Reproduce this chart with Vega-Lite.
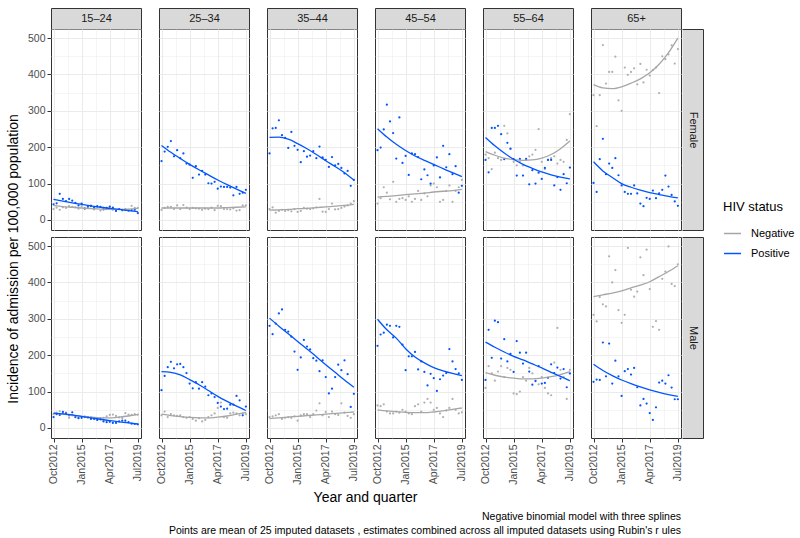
{
"$schema": "https://vega.github.io/schema/vega-lite/v6.json",
"padding": {"left": 6, "top": 7, "right": 5, "bottom": 5},
"background": "white",
"config": {
  "font": "Liberation Sans",
  "view": {"stroke": "#333333", "strokeWidth": 1},
  "axis": {"gridColor": "#EBEBEB", "domain": false, "tickColor": "#333333", "labelColor": "#4D4D4D", "labelFontSize": 10.5, "labelFont": "Liberation Sans", "minExtent": 0, "titleFont": "Liberation Sans", "titleFontSize": 11, "titleColor": "#1A1A1A", "titleFontWeight": "normal", "titlePadding": 0, "titleBaseline": "middle"},
  "title": {"fontWeight": "normal", "color": "#000000", "font": "Liberation Sans"},
  "legend": {"titleFontSize": 13, "titleFontWeight": "normal", "titleColor": "#000000", "labelFontSize": 11, "labelColor": "#000000", "symbolStrokeWidth": 1.5, "symbolSize": 289, "rowPadding": 5, "labelOffset": 9, "titlePadding": 10, "symbolType": "stroke"}
},
"datasets": {
"f1": [
{"hiv":"Negative","q":0,"v":30},{"hiv":"Negative","q":1,"v":34},{"hiv":"Negative","q":2,"v":28},{"hiv":"Negative","q":3,"v":35},{"hiv":"Negative","q":4,"v":33},{"hiv":"Negative","q":5,"v":38},{"hiv":"Negative","q":6,"v":36},{"hiv":"Negative","q":7,"v":35},{"hiv":"Negative","q":8,"v":31},{"hiv":"Negative","q":9,"v":38},{"hiv":"Negative","q":10,"v":30},{"hiv":"Negative","q":11,"v":33},{"hiv":"Negative","q":12,"v":40},{"hiv":"Negative","q":13,"v":29},{"hiv":"Negative","q":14,"v":35},{"hiv":"Negative","q":15,"v":26},{"hiv":"Negative","q":16,"v":33},{"hiv":"Negative","q":17,"v":30},{"hiv":"Negative","q":18,"v":34},{"hiv":"Negative","q":19,"v":28},{"hiv":"Negative","q":20,"v":25},{"hiv":"Negative","q":21,"v":30},{"hiv":"Negative","q":22,"v":26},{"hiv":"Negative","q":23,"v":30},{"hiv":"Negative","q":24,"v":28},{"hiv":"Negative","q":25,"v":39},{"hiv":"Negative","q":26,"v":33},{"hiv":"Negative","q":27,"v":33},
{"hiv":"Positive","q":0,"v":43},{"hiv":"Positive","q":1,"v":46},{"hiv":"Positive","q":2,"v":72},{"hiv":"Positive","q":3,"v":58},{"hiv":"Positive","q":4,"v":52},{"hiv":"Positive","q":5,"v":58},{"hiv":"Positive","q":6,"v":53},{"hiv":"Positive","q":7,"v":47},{"hiv":"Positive","q":8,"v":40},{"hiv":"Positive","q":9,"v":45},{"hiv":"Positive","q":10,"v":32},{"hiv":"Positive","q":11,"v":37},{"hiv":"Positive","q":12,"v":38},{"hiv":"Positive","q":13,"v":34},{"hiv":"Positive","q":14,"v":38},{"hiv":"Positive","q":15,"v":36},{"hiv":"Positive","q":16,"v":29},{"hiv":"Positive","q":17,"v":33},{"hiv":"Positive","q":18,"v":37},{"hiv":"Positive","q":19,"v":34},{"hiv":"Positive","q":20,"v":25},{"hiv":"Positive","q":21,"v":30},{"hiv":"Positive","q":22,"v":28},{"hiv":"Positive","q":23,"v":28},{"hiv":"Positive","q":24,"v":26},{"hiv":"Positive","q":25,"v":27},{"hiv":"Positive","q":26,"v":28},{"hiv":"Positive","q":27,"v":19}],
"f1fit": [
{"hiv":"Negative","q":0,"v":40},{"hiv":"Negative","q":3,"v":37},{"hiv":"Negative","q":6,"v":35},{"hiv":"Negative","q":9,"v":33},{"hiv":"Negative","q":12,"v":31},{"hiv":"Negative","q":15,"v":30},{"hiv":"Negative","q":18,"v":29},{"hiv":"Negative","q":21,"v":29},{"hiv":"Negative","q":24,"v":30},{"hiv":"Negative","q":27,"v":32},
{"hiv":"Positive","q":0,"v":57},{"hiv":"Positive","q":3,"v":52},{"hiv":"Positive","q":6,"v":47},{"hiv":"Positive","q":9,"v":43},{"hiv":"Positive","q":12,"v":39},{"hiv":"Positive","q":15,"v":35},{"hiv":"Positive","q":18,"v":32},{"hiv":"Positive","q":21,"v":29},{"hiv":"Positive","q":24,"v":26},{"hiv":"Positive","q":27,"v":23}],
"f2": [
{"hiv":"Negative","q":0,"v":28},{"hiv":"Negative","q":1,"v":33},{"hiv":"Negative","q":2,"v":36},{"hiv":"Negative","q":3,"v":36},{"hiv":"Negative","q":4,"v":30},{"hiv":"Negative","q":5,"v":40},{"hiv":"Negative","q":6,"v":30},{"hiv":"Negative","q":7,"v":41},{"hiv":"Negative","q":8,"v":34},{"hiv":"Negative","q":9,"v":30},{"hiv":"Negative","q":10,"v":33},{"hiv":"Negative","q":11,"v":32},{"hiv":"Negative","q":12,"v":31},{"hiv":"Negative","q":13,"v":28},{"hiv":"Negative","q":14,"v":31},{"hiv":"Negative","q":15,"v":30},{"hiv":"Negative","q":16,"v":34},{"hiv":"Negative","q":17,"v":27},{"hiv":"Negative","q":18,"v":39},{"hiv":"Negative","q":19,"v":38},{"hiv":"Negative","q":20,"v":30},{"hiv":"Negative","q":21,"v":30},{"hiv":"Negative","q":22,"v":29},{"hiv":"Negative","q":23,"v":32},{"hiv":"Negative","q":24,"v":26},{"hiv":"Negative","q":25,"v":27},{"hiv":"Negative","q":26,"v":40},{"hiv":"Negative","q":27,"v":40},
{"hiv":"Positive","q":0,"v":162},{"hiv":"Positive","q":1,"v":188},{"hiv":"Positive","q":2,"v":201},{"hiv":"Positive","q":3,"v":217},{"hiv":"Positive","q":4,"v":175},{"hiv":"Positive","q":5,"v":192},{"hiv":"Positive","q":6,"v":170},{"hiv":"Positive","q":7,"v":183},{"hiv":"Positive","q":8,"v":155},{"hiv":"Positive","q":9,"v":152},{"hiv":"Positive","q":10,"v":116},{"hiv":"Positive","q":11,"v":148},{"hiv":"Positive","q":12,"v":125},{"hiv":"Positive","q":13,"v":135},{"hiv":"Positive","q":14,"v":125},{"hiv":"Positive","q":15,"v":101},{"hiv":"Positive","q":16,"v":100},{"hiv":"Positive","q":17,"v":105},{"hiv":"Positive","q":18,"v":86},{"hiv":"Positive","q":19,"v":92},{"hiv":"Positive","q":20,"v":91},{"hiv":"Positive","q":21,"v":91},{"hiv":"Positive","q":22,"v":89},{"hiv":"Positive","q":23,"v":68},{"hiv":"Positive","q":24,"v":91},{"hiv":"Positive","q":25,"v":72},{"hiv":"Positive","q":26,"v":75},{"hiv":"Positive","q":27,"v":83}],
"f2fit": [
{"hiv":"Negative","q":0,"v":33},{"hiv":"Negative","q":3,"v":33},{"hiv":"Negative","q":6,"v":33},{"hiv":"Negative","q":9,"v":33},{"hiv":"Negative","q":12,"v":33},{"hiv":"Negative","q":15,"v":33},{"hiv":"Negative","q":18,"v":33},{"hiv":"Negative","q":21,"v":34},{"hiv":"Negative","q":24,"v":35},{"hiv":"Negative","q":27,"v":36},
{"hiv":"Positive","q":0,"v":205},{"hiv":"Positive","q":3,"v":186},{"hiv":"Positive","q":6,"v":169},{"hiv":"Positive","q":9,"v":153},{"hiv":"Positive","q":12,"v":138},{"hiv":"Positive","q":15,"v":124},{"hiv":"Positive","q":18,"v":110},{"hiv":"Positive","q":21,"v":97},{"hiv":"Positive","q":24,"v":85},{"hiv":"Positive","q":27,"v":73}],
"f3": [
{"hiv":"Negative","q":0,"v":30},{"hiv":"Negative","q":1,"v":35},{"hiv":"Negative","q":2,"v":20},{"hiv":"Negative","q":3,"v":25},{"hiv":"Negative","q":4,"v":28},{"hiv":"Negative","q":5,"v":25},{"hiv":"Negative","q":6,"v":27},{"hiv":"Negative","q":7,"v":24},{"hiv":"Negative","q":8,"v":30},{"hiv":"Negative","q":9,"v":22},{"hiv":"Negative","q":10,"v":25},{"hiv":"Negative","q":11,"v":33},{"hiv":"Negative","q":12,"v":31},{"hiv":"Negative","q":13,"v":30},{"hiv":"Negative","q":14,"v":32},{"hiv":"Negative","q":15,"v":35},{"hiv":"Negative","q":16,"v":58},{"hiv":"Negative","q":17,"v":23},{"hiv":"Negative","q":18,"v":22},{"hiv":"Negative","q":19,"v":30},{"hiv":"Negative","q":20,"v":45},{"hiv":"Negative","q":21,"v":29},{"hiv":"Negative","q":22,"v":30},{"hiv":"Negative","q":23,"v":33},{"hiv":"Negative","q":24,"v":37},{"hiv":"Negative","q":25,"v":40},{"hiv":"Negative","q":26,"v":45},{"hiv":"Negative","q":27,"v":52},
{"hiv":"Positive","q":0,"v":183},{"hiv":"Positive","q":1,"v":252},{"hiv":"Positive","q":2,"v":253},{"hiv":"Positive","q":3,"v":274},{"hiv":"Positive","q":4,"v":233},{"hiv":"Positive","q":5,"v":226},{"hiv":"Positive","q":6,"v":198},{"hiv":"Positive","q":7,"v":242},{"hiv":"Positive","q":8,"v":204},{"hiv":"Positive","q":9,"v":193},{"hiv":"Positive","q":10,"v":159},{"hiv":"Positive","q":11,"v":189},{"hiv":"Positive","q":12,"v":174},{"hiv":"Positive","q":13,"v":177},{"hiv":"Positive","q":14,"v":189},{"hiv":"Positive","q":15,"v":170},{"hiv":"Positive","q":16,"v":202},{"hiv":"Positive","q":17,"v":172},{"hiv":"Positive","q":18,"v":165},{"hiv":"Positive","q":19,"v":146},{"hiv":"Positive","q":20,"v":173},{"hiv":"Positive","q":21,"v":150},{"hiv":"Positive","q":22,"v":154},{"hiv":"Positive","q":23,"v":143},{"hiv":"Positive","q":24,"v":128},{"hiv":"Positive","q":25,"v":135},{"hiv":"Positive","q":26,"v":94},{"hiv":"Positive","q":27,"v":110}],
"f3fit": [
{"hiv":"Negative","q":0,"v":27},{"hiv":"Negative","q":3,"v":28},{"hiv":"Negative","q":6,"v":29},{"hiv":"Negative","q":9,"v":31},{"hiv":"Negative","q":12,"v":32},{"hiv":"Negative","q":15,"v":34},{"hiv":"Negative","q":18,"v":36},{"hiv":"Negative","q":21,"v":38},{"hiv":"Negative","q":24,"v":40},{"hiv":"Negative","q":27,"v":43},
{"hiv":"Positive","q":0,"v":227},{"hiv":"Positive","q":3,"v":228},{"hiv":"Positive","q":6,"v":222},{"hiv":"Positive","q":9,"v":210},{"hiv":"Positive","q":12,"v":196},{"hiv":"Positive","q":15,"v":180},{"hiv":"Positive","q":18,"v":163},{"hiv":"Positive","q":21,"v":147},{"hiv":"Positive","q":24,"v":130},{"hiv":"Positive","q":27,"v":110}],
"f4": [
{"hiv":"Negative","q":0,"v":45},{"hiv":"Negative","q":1,"v":60},{"hiv":"Negative","q":2,"v":90},{"hiv":"Negative","q":3,"v":75},{"hiv":"Negative","q":4,"v":57},{"hiv":"Negative","q":5,"v":105},{"hiv":"Negative","q":6,"v":50},{"hiv":"Negative","q":7,"v":58},{"hiv":"Negative","q":8,"v":60},{"hiv":"Negative","q":9,"v":55},{"hiv":"Negative","q":10,"v":65},{"hiv":"Negative","q":11,"v":50},{"hiv":"Negative","q":12,"v":58},{"hiv":"Negative","q":13,"v":80},{"hiv":"Negative","q":14,"v":55},{"hiv":"Negative","q":15,"v":73},{"hiv":"Negative","q":16,"v":65},{"hiv":"Negative","q":17,"v":95},{"hiv":"Negative","q":18,"v":100},{"hiv":"Negative","q":19,"v":90},{"hiv":"Negative","q":20,"v":50},{"hiv":"Negative","q":21,"v":55},{"hiv":"Negative","q":22,"v":80},{"hiv":"Negative","q":23,"v":95},{"hiv":"Negative","q":24,"v":50},{"hiv":"Negative","q":25,"v":80},{"hiv":"Negative","q":26,"v":90},{"hiv":"Negative","q":27,"v":110},
{"hiv":"Positive","q":0,"v":192},{"hiv":"Positive","q":1,"v":199},{"hiv":"Positive","q":2,"v":249},{"hiv":"Positive","q":3,"v":317},{"hiv":"Positive","q":4,"v":271},{"hiv":"Positive","q":5,"v":239},{"hiv":"Positive","q":6,"v":169},{"hiv":"Positive","q":7,"v":282},{"hiv":"Positive","q":8,"v":157},{"hiv":"Positive","q":9,"v":176},{"hiv":"Positive","q":10,"v":124},{"hiv":"Positive","q":11,"v":183},{"hiv":"Positive","q":12,"v":181},{"hiv":"Positive","q":13,"v":173},{"hiv":"Positive","q":14,"v":112},{"hiv":"Positive","q":15,"v":139},{"hiv":"Positive","q":16,"v":123},{"hiv":"Positive","q":17,"v":100},{"hiv":"Positive","q":18,"v":150},{"hiv":"Positive","q":19,"v":172},{"hiv":"Positive","q":20,"v":117},{"hiv":"Positive","q":21,"v":204},{"hiv":"Positive","q":22,"v":145},{"hiv":"Positive","q":23,"v":181},{"hiv":"Positive","q":24,"v":126},{"hiv":"Positive","q":25,"v":148},{"hiv":"Positive","q":26,"v":75},{"hiv":"Positive","q":27,"v":94}],
"f4fit": [
{"hiv":"Negative","q":0,"v":63},{"hiv":"Negative","q":3,"v":65},{"hiv":"Negative","q":6,"v":67},{"hiv":"Negative","q":9,"v":70},{"hiv":"Negative","q":12,"v":72},{"hiv":"Negative","q":15,"v":74},{"hiv":"Negative","q":18,"v":77},{"hiv":"Negative","q":21,"v":79},{"hiv":"Negative","q":24,"v":81},{"hiv":"Negative","q":27,"v":84},
{"hiv":"Positive","q":0,"v":251},{"hiv":"Positive","q":3,"v":228},{"hiv":"Positive","q":6,"v":208},{"hiv":"Positive","q":9,"v":191},{"hiv":"Positive","q":12,"v":176},{"hiv":"Positive","q":15,"v":164},{"hiv":"Positive","q":18,"v":153},{"hiv":"Positive","q":21,"v":141},{"hiv":"Positive","q":24,"v":130},{"hiv":"Positive","q":27,"v":119}],
"f5": [
{"hiv":"Negative","q":0,"v":180},{"hiv":"Negative","q":1,"v":170},{"hiv":"Negative","q":2,"v":140},{"hiv":"Negative","q":3,"v":185},{"hiv":"Negative","q":4,"v":170},{"hiv":"Negative","q":5,"v":165},{"hiv":"Negative","q":6,"v":259},{"hiv":"Negative","q":7,"v":238},{"hiv":"Negative","q":8,"v":195},{"hiv":"Negative","q":9,"v":160},{"hiv":"Negative","q":10,"v":150},{"hiv":"Negative","q":11,"v":160},{"hiv":"Negative","q":12,"v":150},{"hiv":"Negative","q":13,"v":165},{"hiv":"Negative","q":14,"v":175},{"hiv":"Negative","q":15,"v":180},{"hiv":"Negative","q":16,"v":193},{"hiv":"Negative","q":17,"v":250},{"hiv":"Negative","q":18,"v":160},{"hiv":"Negative","q":19,"v":140},{"hiv":"Negative","q":20,"v":165},{"hiv":"Negative","q":21,"v":170},{"hiv":"Negative","q":22,"v":175},{"hiv":"Negative","q":23,"v":155},{"hiv":"Negative","q":24,"v":165},{"hiv":"Negative","q":25,"v":160},{"hiv":"Negative","q":26,"v":220},{"hiv":"Negative","q":27,"v":291},
{"hiv":"Positive","q":0,"v":165},{"hiv":"Positive","q":1,"v":131},{"hiv":"Positive","q":2,"v":253},{"hiv":"Positive","q":3,"v":253},{"hiv":"Positive","q":4,"v":259},{"hiv":"Positive","q":5,"v":236},{"hiv":"Positive","q":6,"v":167},{"hiv":"Positive","q":7,"v":212},{"hiv":"Positive","q":8,"v":196},{"hiv":"Positive","q":9,"v":167},{"hiv":"Positive","q":10,"v":122},{"hiv":"Positive","q":11,"v":168},{"hiv":"Positive","q":12,"v":122},{"hiv":"Positive","q":13,"v":168},{"hiv":"Positive","q":14,"v":98},{"hiv":"Positive","q":15,"v":137},{"hiv":"Positive","q":16,"v":100},{"hiv":"Positive","q":17,"v":130},{"hiv":"Positive","q":18,"v":113},{"hiv":"Positive","q":19,"v":143},{"hiv":"Positive","q":20,"v":165},{"hiv":"Positive","q":21,"v":165},{"hiv":"Positive","q":22,"v":95},{"hiv":"Positive","q":23,"v":118},{"hiv":"Positive","q":24,"v":83},{"hiv":"Positive","q":25,"v":126},{"hiv":"Positive","q":26,"v":101},{"hiv":"Positive","q":27,"v":144}],
"f5fit": [
{"hiv":"Negative","q":0,"v":188},{"hiv":"Negative","q":3,"v":178},{"hiv":"Negative","q":6,"v":170},{"hiv":"Negative","q":9,"v":166},{"hiv":"Negative","q":12,"v":164},{"hiv":"Negative","q":15,"v":165},{"hiv":"Negative","q":18,"v":170},{"hiv":"Negative","q":21,"v":180},{"hiv":"Negative","q":24,"v":196},{"hiv":"Negative","q":27,"v":217},
{"hiv":"Positive","q":0,"v":227},{"hiv":"Positive","q":3,"v":204},{"hiv":"Positive","q":6,"v":184},{"hiv":"Positive","q":9,"v":167},{"hiv":"Positive","q":12,"v":153},{"hiv":"Positive","q":15,"v":142},{"hiv":"Positive","q":18,"v":132},{"hiv":"Positive","q":21,"v":124},{"hiv":"Positive","q":24,"v":118},{"hiv":"Positive","q":27,"v":113}],
"f6": [
{"hiv":"Negative","q":0,"v":343},{"hiv":"Negative","q":1,"v":258},{"hiv":"Negative","q":2,"v":343},{"hiv":"Negative","q":3,"v":481},{"hiv":"Negative","q":4,"v":375},{"hiv":"Negative","q":5,"v":407},{"hiv":"Negative","q":6,"v":407},{"hiv":"Negative","q":7,"v":449},{"hiv":"Negative","q":8,"v":329},{"hiv":"Negative","q":9,"v":300},{"hiv":"Negative","q":10,"v":419},{"hiv":"Negative","q":11,"v":399},{"hiv":"Negative","q":12,"v":407},{"hiv":"Negative","q":13,"v":417},{"hiv":"Negative","q":14,"v":373},{"hiv":"Negative","q":15,"v":429},{"hiv":"Negative","q":16,"v":378},{"hiv":"Negative","q":17,"v":413},{"hiv":"Negative","q":18,"v":397},{"hiv":"Negative","q":19,"v":412},{"hiv":"Negative","q":20,"v":419},{"hiv":"Negative","q":21,"v":349},{"hiv":"Negative","q":22,"v":450},{"hiv":"Negative","q":23,"v":442},{"hiv":"Negative","q":24,"v":455},{"hiv":"Negative","q":25,"v":480},{"hiv":"Negative","q":26,"v":430},{"hiv":"Negative","q":27,"v":470},
{"hiv":"Positive","q":0,"v":102},{"hiv":"Positive","q":1,"v":77},{"hiv":"Positive","q":2,"v":167},{"hiv":"Positive","q":3,"v":223},{"hiv":"Positive","q":4,"v":126},{"hiv":"Positive","q":5,"v":155},{"hiv":"Positive","q":6,"v":143},{"hiv":"Positive","q":7,"v":170},{"hiv":"Positive","q":8,"v":123},{"hiv":"Positive","q":9,"v":95},{"hiv":"Positive","q":10,"v":77},{"hiv":"Positive","q":11,"v":72},{"hiv":"Positive","q":12,"v":72},{"hiv":"Positive","q":13,"v":95},{"hiv":"Positive","q":14,"v":73},{"hiv":"Positive","q":15,"v":45},{"hiv":"Positive","q":16,"v":38},{"hiv":"Positive","q":17,"v":61},{"hiv":"Positive","q":18,"v":58},{"hiv":"Positive","q":19,"v":81},{"hiv":"Positive","q":20,"v":60},{"hiv":"Positive","q":21,"v":73},{"hiv":"Positive","q":22,"v":83},{"hiv":"Positive","q":23,"v":122},{"hiv":"Positive","q":24,"v":92},{"hiv":"Positive","q":25,"v":69},{"hiv":"Positive","q":26,"v":51},{"hiv":"Positive","q":27,"v":39}],
"f6fit": [
{"hiv":"Negative","q":0,"v":372},{"hiv":"Negative","q":3,"v":363},{"hiv":"Negative","q":6,"v":361},{"hiv":"Negative","q":9,"v":366},{"hiv":"Negative","q":12,"v":376},{"hiv":"Negative","q":15,"v":388},{"hiv":"Negative","q":18,"v":405},{"hiv":"Negative","q":21,"v":428},{"hiv":"Negative","q":24,"v":460},{"hiv":"Negative","q":27,"v":500},
{"hiv":"Positive","q":0,"v":160},{"hiv":"Positive","q":3,"v":135},{"hiv":"Positive","q":6,"v":117},{"hiv":"Positive","q":9,"v":100},{"hiv":"Positive","q":12,"v":90},{"hiv":"Positive","q":15,"v":82},{"hiv":"Positive","q":18,"v":75},{"hiv":"Positive","q":21,"v":70},{"hiv":"Positive","q":24,"v":65},{"hiv":"Positive","q":27,"v":61}],
"m1": [
{"hiv":"Negative","q":0,"v":38},{"hiv":"Negative","q":1,"v":42},{"hiv":"Negative","q":2,"v":46},{"hiv":"Negative","q":3,"v":40},{"hiv":"Negative","q":4,"v":42},{"hiv":"Negative","q":5,"v":28},{"hiv":"Negative","q":6,"v":35},{"hiv":"Negative","q":7,"v":30},{"hiv":"Negative","q":8,"v":28},{"hiv":"Negative","q":9,"v":30},{"hiv":"Negative","q":10,"v":32},{"hiv":"Negative","q":11,"v":28},{"hiv":"Negative","q":12,"v":30},{"hiv":"Negative","q":13,"v":26},{"hiv":"Negative","q":14,"v":25},{"hiv":"Negative","q":15,"v":27},{"hiv":"Negative","q":16,"v":28},{"hiv":"Negative","q":17,"v":32},{"hiv":"Negative","q":18,"v":36},{"hiv":"Negative","q":19,"v":37},{"hiv":"Negative","q":20,"v":33},{"hiv":"Negative","q":21,"v":29},{"hiv":"Negative","q":22,"v":27},{"hiv":"Negative","q":23,"v":41},{"hiv":"Negative","q":24,"v":37},{"hiv":"Negative","q":25,"v":36},{"hiv":"Negative","q":26,"v":38},{"hiv":"Negative","q":27,"v":37},
{"hiv":"Positive","q":0,"v":30},{"hiv":"Positive","q":1,"v":38},{"hiv":"Positive","q":2,"v":36},{"hiv":"Positive","q":3,"v":44},{"hiv":"Positive","q":4,"v":40},{"hiv":"Positive","q":5,"v":35},{"hiv":"Positive","q":6,"v":43},{"hiv":"Positive","q":7,"v":30},{"hiv":"Positive","q":8,"v":27},{"hiv":"Positive","q":9,"v":28},{"hiv":"Positive","q":10,"v":30},{"hiv":"Positive","q":11,"v":30},{"hiv":"Positive","q":12,"v":25},{"hiv":"Positive","q":13,"v":25},{"hiv":"Positive","q":14,"v":22},{"hiv":"Positive","q":15,"v":24},{"hiv":"Positive","q":16,"v":18},{"hiv":"Positive","q":17,"v":16},{"hiv":"Positive","q":18,"v":17},{"hiv":"Positive","q":19,"v":14},{"hiv":"Positive","q":20,"v":14},{"hiv":"Positive","q":21,"v":18},{"hiv":"Positive","q":22,"v":20},{"hiv":"Positive","q":23,"v":20},{"hiv":"Positive","q":24,"v":16},{"hiv":"Positive","q":25,"v":12},{"hiv":"Positive","q":26,"v":11},{"hiv":"Positive","q":27,"v":10}],
"m1fit": [
{"hiv":"Negative","q":0,"v":41},{"hiv":"Negative","q":3,"v":38},{"hiv":"Negative","q":6,"v":35},{"hiv":"Negative","q":9,"v":32},{"hiv":"Negative","q":12,"v":30},{"hiv":"Negative","q":15,"v":28},{"hiv":"Negative","q":18,"v":28},{"hiv":"Negative","q":21,"v":30},{"hiv":"Negative","q":24,"v":33},{"hiv":"Negative","q":27,"v":37},
{"hiv":"Positive","q":0,"v":41},{"hiv":"Positive","q":3,"v":39},{"hiv":"Positive","q":6,"v":36},{"hiv":"Positive","q":9,"v":32},{"hiv":"Positive","q":12,"v":28},{"hiv":"Positive","q":15,"v":24},{"hiv":"Positive","q":18,"v":20},{"hiv":"Positive","q":21,"v":17},{"hiv":"Positive","q":24,"v":14},{"hiv":"Positive","q":27,"v":11}],
"m2": [
{"hiv":"Negative","q":0,"v":35},{"hiv":"Negative","q":1,"v":45},{"hiv":"Negative","q":2,"v":30},{"hiv":"Negative","q":3,"v":38},{"hiv":"Negative","q":4,"v":35},{"hiv":"Negative","q":5,"v":33},{"hiv":"Negative","q":6,"v":35},{"hiv":"Negative","q":7,"v":30},{"hiv":"Negative","q":8,"v":28},{"hiv":"Negative","q":9,"v":30},{"hiv":"Negative","q":10,"v":25},{"hiv":"Negative","q":11,"v":20},{"hiv":"Negative","q":12,"v":27},{"hiv":"Negative","q":13,"v":18},{"hiv":"Negative","q":14,"v":22},{"hiv":"Negative","q":15,"v":30},{"hiv":"Negative","q":16,"v":35},{"hiv":"Negative","q":17,"v":40},{"hiv":"Negative","q":18,"v":55},{"hiv":"Negative","q":19,"v":70},{"hiv":"Negative","q":20,"v":30},{"hiv":"Negative","q":21,"v":28},{"hiv":"Negative","q":22,"v":40},{"hiv":"Negative","q":23,"v":42},{"hiv":"Negative","q":24,"v":40},{"hiv":"Negative","q":25,"v":35},{"hiv":"Negative","q":26,"v":40},{"hiv":"Negative","q":27,"v":38},
{"hiv":"Positive","q":0,"v":104},{"hiv":"Positive","q":1,"v":143},{"hiv":"Positive","q":2,"v":167},{"hiv":"Positive","q":3,"v":182},{"hiv":"Positive","q":4,"v":164},{"hiv":"Positive","q":5,"v":175},{"hiv":"Positive","q":6,"v":176},{"hiv":"Positive","q":7,"v":167},{"hiv":"Positive","q":8,"v":151},{"hiv":"Positive","q":9,"v":122},{"hiv":"Positive","q":10,"v":109},{"hiv":"Positive","q":11,"v":126},{"hiv":"Positive","q":12,"v":108},{"hiv":"Positive","q":13,"v":126},{"hiv":"Positive","q":14,"v":114},{"hiv":"Positive","q":15,"v":90},{"hiv":"Positive","q":16,"v":95},{"hiv":"Positive","q":17,"v":85},{"hiv":"Positive","q":18,"v":69},{"hiv":"Positive","q":19,"v":59},{"hiv":"Positive","q":20,"v":52},{"hiv":"Positive","q":21,"v":53},{"hiv":"Positive","q":22,"v":64},{"hiv":"Positive","q":23,"v":64},{"hiv":"Positive","q":24,"v":88},{"hiv":"Positive","q":25,"v":76},{"hiv":"Positive","q":26,"v":35},{"hiv":"Positive","q":27,"v":59}],
"m2fit": [
{"hiv":"Negative","q":0,"v":38},{"hiv":"Negative","q":3,"v":34},{"hiv":"Negative","q":6,"v":31},{"hiv":"Negative","q":9,"v":29},{"hiv":"Negative","q":12,"v":28},{"hiv":"Negative","q":15,"v":28},{"hiv":"Negative","q":18,"v":30},{"hiv":"Negative","q":21,"v":33},{"hiv":"Negative","q":24,"v":38},{"hiv":"Negative","q":27,"v":43},
{"hiv":"Positive","q":0,"v":155},{"hiv":"Positive","q":3,"v":153},{"hiv":"Positive","q":6,"v":146},{"hiv":"Positive","q":9,"v":133},{"hiv":"Positive","q":12,"v":119},{"hiv":"Positive","q":15,"v":103},{"hiv":"Positive","q":18,"v":87},{"hiv":"Positive","q":21,"v":73},{"hiv":"Positive","q":24,"v":60},{"hiv":"Positive","q":27,"v":48}],
"m3": [
{"hiv":"Negative","q":0,"v":30},{"hiv":"Negative","q":1,"v":32},{"hiv":"Negative","q":2,"v":35},{"hiv":"Negative","q":3,"v":38},{"hiv":"Negative","q":4,"v":25},{"hiv":"Negative","q":5,"v":28},{"hiv":"Negative","q":6,"v":30},{"hiv":"Negative","q":7,"v":28},{"hiv":"Negative","q":8,"v":32},{"hiv":"Negative","q":9,"v":20},{"hiv":"Negative","q":10,"v":35},{"hiv":"Negative","q":11,"v":38},{"hiv":"Negative","q":12,"v":38},{"hiv":"Negative","q":13,"v":30},{"hiv":"Negative","q":14,"v":38},{"hiv":"Negative","q":15,"v":48},{"hiv":"Negative","q":16,"v":68},{"hiv":"Negative","q":17,"v":35},{"hiv":"Negative","q":18,"v":44},{"hiv":"Negative","q":19,"v":30},{"hiv":"Negative","q":20,"v":45},{"hiv":"Negative","q":21,"v":38},{"hiv":"Negative","q":22,"v":36},{"hiv":"Negative","q":23,"v":68},{"hiv":"Negative","q":24,"v":42},{"hiv":"Negative","q":25,"v":33},{"hiv":"Negative","q":26,"v":28},{"hiv":"Negative","q":27,"v":38},
{"hiv":"Positive","q":0,"v":281},{"hiv":"Positive","q":1,"v":258},{"hiv":"Positive","q":2,"v":287},{"hiv":"Positive","q":3,"v":315},{"hiv":"Positive","q":4,"v":326},{"hiv":"Positive","q":5,"v":270},{"hiv":"Positive","q":6,"v":265},{"hiv":"Positive","q":7,"v":251},{"hiv":"Positive","q":8,"v":210},{"hiv":"Positive","q":9,"v":160},{"hiv":"Positive","q":10,"v":194},{"hiv":"Positive","q":11,"v":242},{"hiv":"Positive","q":12,"v":224},{"hiv":"Positive","q":13,"v":216},{"hiv":"Positive","q":14,"v":192},{"hiv":"Positive","q":15,"v":185},{"hiv":"Positive","q":16,"v":156},{"hiv":"Positive","q":17,"v":186},{"hiv":"Positive","q":18,"v":140},{"hiv":"Positive","q":19,"v":95},{"hiv":"Positive","q":20,"v":108},{"hiv":"Positive","q":21,"v":140},{"hiv":"Positive","q":22,"v":174},{"hiv":"Positive","q":23,"v":159},{"hiv":"Positive","q":24,"v":186},{"hiv":"Positive","q":25,"v":148},{"hiv":"Positive","q":26,"v":58},{"hiv":"Positive","q":27,"v":94}],
"m3fit": [
{"hiv":"Negative","q":0,"v":26},{"hiv":"Negative","q":3,"v":28},{"hiv":"Negative","q":6,"v":30},{"hiv":"Negative","q":9,"v":32},{"hiv":"Negative","q":12,"v":34},{"hiv":"Negative","q":15,"v":36},{"hiv":"Negative","q":18,"v":38},{"hiv":"Negative","q":21,"v":40},{"hiv":"Negative","q":24,"v":42},{"hiv":"Negative","q":27,"v":44},
{"hiv":"Positive","q":0,"v":302},{"hiv":"Positive","q":3,"v":280},{"hiv":"Positive","q":6,"v":259},{"hiv":"Positive","q":9,"v":238},{"hiv":"Positive","q":12,"v":217},{"hiv":"Positive","q":15,"v":196},{"hiv":"Positive","q":18,"v":174},{"hiv":"Positive","q":21,"v":153},{"hiv":"Positive","q":24,"v":132},{"hiv":"Positive","q":27,"v":112}],
"m4": [
{"hiv":"Negative","q":0,"v":62},{"hiv":"Negative","q":1,"v":60},{"hiv":"Negative","q":2,"v":65},{"hiv":"Negative","q":3,"v":45},{"hiv":"Negative","q":4,"v":40},{"hiv":"Negative","q":5,"v":40},{"hiv":"Negative","q":6,"v":45},{"hiv":"Negative","q":7,"v":42},{"hiv":"Negative","q":8,"v":50},{"hiv":"Negative","q":9,"v":45},{"hiv":"Negative","q":10,"v":40},{"hiv":"Negative","q":11,"v":38},{"hiv":"Negative","q":12,"v":60},{"hiv":"Negative","q":13,"v":65},{"hiv":"Negative","q":14,"v":45},{"hiv":"Negative","q":15,"v":70},{"hiv":"Negative","q":16,"v":80},{"hiv":"Negative","q":17,"v":70},{"hiv":"Negative","q":18,"v":50},{"hiv":"Negative","q":19,"v":55},{"hiv":"Negative","q":20,"v":40},{"hiv":"Negative","q":21,"v":30},{"hiv":"Negative","q":22,"v":48},{"hiv":"Negative","q":23,"v":55},{"hiv":"Negative","q":24,"v":80},{"hiv":"Negative","q":25,"v":50},{"hiv":"Negative","q":26,"v":40},{"hiv":"Negative","q":27,"v":43},
{"hiv":"Positive","q":0,"v":226},{"hiv":"Positive","q":1,"v":257},{"hiv":"Positive","q":2,"v":262},{"hiv":"Positive","q":3,"v":284},{"hiv":"Positive","q":4,"v":281},{"hiv":"Positive","q":5,"v":249},{"hiv":"Positive","q":6,"v":281},{"hiv":"Positive","q":7,"v":278},{"hiv":"Positive","q":8,"v":229},{"hiv":"Positive","q":9,"v":159},{"hiv":"Positive","q":10,"v":197},{"hiv":"Positive","q":11,"v":197},{"hiv":"Positive","q":12,"v":209},{"hiv":"Positive","q":13,"v":161},{"hiv":"Positive","q":14,"v":183},{"hiv":"Positive","q":15,"v":154},{"hiv":"Positive","q":16,"v":117},{"hiv":"Positive","q":17,"v":149},{"hiv":"Positive","q":18,"v":137},{"hiv":"Positive","q":19,"v":102},{"hiv":"Positive","q":20,"v":134},{"hiv":"Positive","q":21,"v":144},{"hiv":"Positive","q":22,"v":151},{"hiv":"Positive","q":23,"v":217},{"hiv":"Positive","q":24,"v":183},{"hiv":"Positive","q":25,"v":162},{"hiv":"Positive","q":26,"v":150},{"hiv":"Positive","q":27,"v":132}],
"m4fit": [
{"hiv":"Negative","q":0,"v":50},{"hiv":"Negative","q":3,"v":47},{"hiv":"Negative","q":6,"v":45},{"hiv":"Negative","q":9,"v":43},{"hiv":"Negative","q":12,"v":42},{"hiv":"Negative","q":15,"v":42},{"hiv":"Negative","q":18,"v":44},{"hiv":"Negative","q":21,"v":47},{"hiv":"Negative","q":24,"v":51},{"hiv":"Negative","q":27,"v":55},
{"hiv":"Positive","q":0,"v":299},{"hiv":"Positive","q":3,"v":270},{"hiv":"Positive","q":6,"v":247},{"hiv":"Positive","q":9,"v":218},{"hiv":"Positive","q":12,"v":195},{"hiv":"Positive","q":15,"v":179},{"hiv":"Positive","q":18,"v":166},{"hiv":"Positive","q":21,"v":157},{"hiv":"Positive","q":24,"v":150},{"hiv":"Positive","q":27,"v":144}],
"m5": [
{"hiv":"Negative","q":0,"v":110},{"hiv":"Negative","q":1,"v":170},{"hiv":"Negative","q":2,"v":150},{"hiv":"Negative","q":3,"v":130},{"hiv":"Negative","q":4,"v":155},{"hiv":"Negative","q":5,"v":170},{"hiv":"Negative","q":6,"v":140},{"hiv":"Negative","q":7,"v":165},{"hiv":"Negative","q":8,"v":160},{"hiv":"Negative","q":9,"v":95},{"hiv":"Negative","q":10,"v":93},{"hiv":"Negative","q":11,"v":100},{"hiv":"Negative","q":12,"v":140},{"hiv":"Negative","q":13,"v":130},{"hiv":"Negative","q":14,"v":165},{"hiv":"Negative","q":15,"v":150},{"hiv":"Negative","q":16,"v":130},{"hiv":"Negative","q":17,"v":120},{"hiv":"Negative","q":18,"v":140},{"hiv":"Negative","q":19,"v":110},{"hiv":"Negative","q":20,"v":95},{"hiv":"Negative","q":21,"v":90},{"hiv":"Negative","q":22,"v":180},{"hiv":"Negative","q":23,"v":275},{"hiv":"Negative","q":24,"v":160},{"hiv":"Negative","q":25,"v":140},{"hiv":"Negative","q":26,"v":80},{"hiv":"Negative","q":27,"v":160},
{"hiv":"Positive","q":0,"v":132},{"hiv":"Positive","q":1,"v":270},{"hiv":"Positive","q":2,"v":193},{"hiv":"Positive","q":3,"v":295},{"hiv":"Positive","q":4,"v":291},{"hiv":"Positive","q":5,"v":191},{"hiv":"Positive","q":6,"v":244},{"hiv":"Positive","q":7,"v":183},{"hiv":"Positive","q":8,"v":204},{"hiv":"Positive","q":9,"v":154},{"hiv":"Positive","q":10,"v":239},{"hiv":"Positive","q":11,"v":207},{"hiv":"Positive","q":12,"v":177},{"hiv":"Positive","q":13,"v":207},{"hiv":"Positive","q":14,"v":155},{"hiv":"Positive","q":15,"v":119},{"hiv":"Positive","q":16,"v":129},{"hiv":"Positive","q":17,"v":170},{"hiv":"Positive","q":18,"v":122},{"hiv":"Positive","q":19,"v":124},{"hiv":"Positive","q":20,"v":138},{"hiv":"Positive","q":21,"v":175},{"hiv":"Positive","q":22,"v":151},{"hiv":"Positive","q":23,"v":166},{"hiv":"Positive","q":24,"v":136},{"hiv":"Positive","q":25,"v":162},{"hiv":"Positive","q":26,"v":112},{"hiv":"Positive","q":27,"v":150}],
"m5fit": [
{"hiv":"Negative","q":0,"v":152},{"hiv":"Negative","q":3,"v":145},{"hiv":"Negative","q":6,"v":140},{"hiv":"Negative","q":9,"v":137},{"hiv":"Negative","q":12,"v":135},{"hiv":"Negative","q":15,"v":135},{"hiv":"Negative","q":18,"v":137},{"hiv":"Negative","q":21,"v":141},{"hiv":"Negative","q":24,"v":147},{"hiv":"Negative","q":27,"v":155},
{"hiv":"Positive","q":0,"v":236},{"hiv":"Positive","q":3,"v":222},{"hiv":"Positive","q":6,"v":209},{"hiv":"Positive","q":9,"v":197},{"hiv":"Positive","q":12,"v":187},{"hiv":"Positive","q":15,"v":176},{"hiv":"Positive","q":18,"v":165},{"hiv":"Positive","q":21,"v":153},{"hiv":"Positive","q":24,"v":142},{"hiv":"Positive","q":27,"v":130}],
"m6": [
{"hiv":"Negative","q":0,"v":311},{"hiv":"Negative","q":1,"v":293},{"hiv":"Negative","q":2,"v":360},{"hiv":"Negative","q":3,"v":340},{"hiv":"Negative","q":4,"v":334},{"hiv":"Negative","q":5,"v":472},{"hiv":"Negative","q":6,"v":400},{"hiv":"Negative","q":7,"v":434},{"hiv":"Negative","q":8,"v":324},{"hiv":"Negative","q":9,"v":289},{"hiv":"Negative","q":10,"v":311},{"hiv":"Negative","q":11,"v":495},{"hiv":"Negative","q":12,"v":380},{"hiv":"Negative","q":13,"v":361},{"hiv":"Negative","q":14,"v":375},{"hiv":"Negative","q":15,"v":469},{"hiv":"Negative","q":16,"v":420},{"hiv":"Negative","q":17,"v":490},{"hiv":"Negative","q":18,"v":382},{"hiv":"Negative","q":19,"v":278},{"hiv":"Negative","q":20,"v":294},{"hiv":"Negative","q":21,"v":270},{"hiv":"Negative","q":22,"v":410},{"hiv":"Negative","q":23,"v":430},{"hiv":"Negative","q":24,"v":499},{"hiv":"Negative","q":25,"v":396},{"hiv":"Negative","q":26,"v":390},{"hiv":"Negative","q":27,"v":450},
{"hiv":"Positive","q":0,"v":127},{"hiv":"Positive","q":1,"v":133},{"hiv":"Positive","q":2,"v":132},{"hiv":"Positive","q":3,"v":235},{"hiv":"Positive","q":4,"v":142},{"hiv":"Positive","q":5,"v":232},{"hiv":"Positive","q":6,"v":122},{"hiv":"Positive","q":7,"v":185},{"hiv":"Positive","q":8,"v":142},{"hiv":"Positive","q":9,"v":88},{"hiv":"Positive","q":10,"v":156},{"hiv":"Positive","q":11,"v":162},{"hiv":"Positive","q":12,"v":147},{"hiv":"Positive","q":13,"v":165},{"hiv":"Positive","q":14,"v":112},{"hiv":"Positive","q":15,"v":62},{"hiv":"Positive","q":16,"v":80},{"hiv":"Positive","q":17,"v":67},{"hiv":"Positive","q":18,"v":41},{"hiv":"Positive","q":19,"v":22},{"hiv":"Positive","q":20,"v":57},{"hiv":"Positive","q":21,"v":125},{"hiv":"Positive","q":22,"v":130},{"hiv":"Positive","q":23,"v":122},{"hiv":"Positive","q":24,"v":145},{"hiv":"Positive","q":25,"v":111},{"hiv":"Positive","q":26,"v":79},{"hiv":"Positive","q":27,"v":79}],
"m6fit": [
{"hiv":"Negative","q":0,"v":361},{"hiv":"Negative","q":3,"v":366},{"hiv":"Negative","q":6,"v":371},{"hiv":"Negative","q":9,"v":377},{"hiv":"Negative","q":12,"v":385},{"hiv":"Negative","q":15,"v":393},{"hiv":"Negative","q":18,"v":402},{"hiv":"Negative","q":21,"v":416},{"hiv":"Negative","q":24,"v":430},{"hiv":"Negative","q":27,"v":446},
{"hiv":"Positive","q":0,"v":175},{"hiv":"Positive","q":3,"v":158},{"hiv":"Positive","q":6,"v":144},{"hiv":"Positive","q":9,"v":132},{"hiv":"Positive","q":12,"v":122},{"hiv":"Positive","q":15,"v":113},{"hiv":"Positive","q":18,"v":105},{"hiv":"Positive","q":21,"v":98},{"hiv":"Positive","q":24,"v":92},{"hiv":"Positive","q":27,"v":87}]
},
"vconcat": [
{"title": {"text": ["Negative binomial model with three splines", "Points are mean of 25 imputed datasets , estimates combined across all imputed datasets using Rubin's r ules"], "orient": "bottom", "anchor": "end", "align": "right", "fontSize": 10.5, "lineHeight": 14, "offset": 7, "dx": -23},
 "vconcat": [
 {"title": {"text": "Incidence of admission per 100,000 population", "orient": "left", "anchor": "middle", "fontSize": 14, "offset": 6, "dx": -3},
  "spacing": 5,
  "vconcat": [
  {"hconcat": [
   {"width": 90, "height": 201, "resolve": {"axis": {"x": "independent", "y": "independent"}},
    "layer": [
     {"data": {"name": "f1"}, "mark": {"type": "circle", "size": 5, "opacity": 1},
      "encoding": {"x": {"field": "q", "type": "quantitative", "scale": {"domain": [-0.8, 28], "nice": false, "zero": false}, "axis": {"orient": "top", "values": [0, 4.5, 9, 13.5, 18, 22.5, 27], "gridWidth": {"condition": {"test": "datum.value % 9 === 0", "value": 1}, "value": 0.5}, "labels": false, "ticks": false, "domain": true, "domainColor": "#D9D9D9", "domainWidth": 21, "offset": 10.5, "title": "15–24"}},
                   "y": {"field": "v", "type": "quantitative", "scale": {"domain": [-27.5, 525], "nice": false, "zero": false}, "axis": {"title": null, "values": [0, 50, 100, 150, 200, 250, 300, 350, 400, 450, 500], "labelExpr": "datum.value % 100 === 0 ? datum.label : ''", "tickOpacity": {"condition": {"test": "datum.value % 100 === 0", "value": 1}, "value": 0}, "gridWidth": {"condition": {"test": "datum.value % 100 === 0", "value": 1}, "value": 0.5}, "tickSize": 4, "labelPadding": 2}},
                   "fill": {"field": "hiv", "type": "nominal", "scale": {"domain": ["Positive", "Negative"], "range": ["#0055FF", "#B0B0B0"]}, "legend": null}}},
     {"data": {"name": "f1fit"}, "mark": {"type": "line", "strokeWidth": 1.3, "interpolate": "monotone"},
      "encoding": {"x": {"field": "q", "type": "quantitative", "scale": {"domain": [-0.8, 28], "nice": false, "zero": false}, "axis": {"orient": "top", "values": [-0.8, 28], "grid": false, "labels": false, "ticks": true, "tickSize": -21, "tickColor": "#333333", "domain": true, "domainColor": "#333333", "domainWidth": 1, "offset": 21, "title": null}},
                   "y": {"field": "v", "type": "quantitative", "scale": {"domain": [-27.5, 525], "nice": false, "zero": false}, "axis": null},
                   "stroke": {"field": "hiv", "type": "nominal", "scale": {"domain": ["Negative", "Positive"], "range": ["#A6A6A6", "#0055FF"]}, "legend": {"title": "HIV status", "orient": "none", "legendX": 672, "legendY": 172}}}}
    ]},
   {"width": 90, "height": 201, "resolve": {"axis": {"x": "independent", "y": "independent"}},
    "layer": [
     {"data": {"name": "f2"}, "mark": {"type": "circle", "size": 5, "opacity": 1},
      "encoding": {"x": {"field": "q", "type": "quantitative", "scale": {"domain": [-0.8, 28], "nice": false, "zero": false}, "axis": {"orient": "top", "values": [0, 4.5, 9, 13.5, 18, 22.5, 27], "gridWidth": {"condition": {"test": "datum.value % 9 === 0", "value": 1}, "value": 0.5}, "labels": false, "ticks": false, "domain": true, "domainColor": "#D9D9D9", "domainWidth": 21, "offset": 10.5, "title": "25–34"}},
                   "y": {"field": "v", "type": "quantitative", "scale": {"domain": [-27.5, 525], "nice": false, "zero": false}, "axis": {"title": null, "values": [0, 50, 100, 150, 200, 250, 300, 350, 400, 450, 500], "labels": false, "ticks": false, "gridWidth": {"condition": {"test": "datum.value % 100 === 0", "value": 1}, "value": 0.5}}},
                   "fill": {"field": "hiv", "type": "nominal", "scale": {"domain": ["Positive", "Negative"], "range": ["#0055FF", "#B0B0B0"]}, "legend": null}}},
     {"data": {"name": "f2fit"}, "mark": {"type": "line", "strokeWidth": 1.3, "interpolate": "monotone"},
      "encoding": {"x": {"field": "q", "type": "quantitative", "scale": {"domain": [-0.8, 28], "nice": false, "zero": false}, "axis": {"orient": "top", "values": [-0.8, 28], "grid": false, "labels": false, "ticks": true, "tickSize": -21, "tickColor": "#333333", "domain": true, "domainColor": "#333333", "domainWidth": 1, "offset": 21, "title": null}},
                   "y": {"field": "v", "type": "quantitative", "scale": {"domain": [-27.5, 525], "nice": false, "zero": false}, "axis": null},
                   "stroke": {"field": "hiv", "type": "nominal", "scale": {"domain": ["Negative", "Positive"], "range": ["#A6A6A6", "#0055FF"]}, "legend": {"title": "HIV status", "orient": "none", "legendX": 672, "legendY": 172}}}}
    ]},
   {"width": 90, "height": 201, "resolve": {"axis": {"x": "independent", "y": "independent"}},
    "layer": [
     {"data": {"name": "f3"}, "mark": {"type": "circle", "size": 5, "opacity": 1},
      "encoding": {"x": {"field": "q", "type": "quantitative", "scale": {"domain": [-0.8, 28], "nice": false, "zero": false}, "axis": {"orient": "top", "values": [0, 4.5, 9, 13.5, 18, 22.5, 27], "gridWidth": {"condition": {"test": "datum.value % 9 === 0", "value": 1}, "value": 0.5}, "labels": false, "ticks": false, "domain": true, "domainColor": "#D9D9D9", "domainWidth": 21, "offset": 10.5, "title": "35–44"}},
                   "y": {"field": "v", "type": "quantitative", "scale": {"domain": [-27.5, 525], "nice": false, "zero": false}, "axis": {"title": null, "values": [0, 50, 100, 150, 200, 250, 300, 350, 400, 450, 500], "labels": false, "ticks": false, "gridWidth": {"condition": {"test": "datum.value % 100 === 0", "value": 1}, "value": 0.5}}},
                   "fill": {"field": "hiv", "type": "nominal", "scale": {"domain": ["Positive", "Negative"], "range": ["#0055FF", "#B0B0B0"]}, "legend": null}}},
     {"data": {"name": "f3fit"}, "mark": {"type": "line", "strokeWidth": 1.3, "interpolate": "monotone"},
      "encoding": {"x": {"field": "q", "type": "quantitative", "scale": {"domain": [-0.8, 28], "nice": false, "zero": false}, "axis": {"orient": "top", "values": [-0.8, 28], "grid": false, "labels": false, "ticks": true, "tickSize": -21, "tickColor": "#333333", "domain": true, "domainColor": "#333333", "domainWidth": 1, "offset": 21, "title": null}},
                   "y": {"field": "v", "type": "quantitative", "scale": {"domain": [-27.5, 525], "nice": false, "zero": false}, "axis": null},
                   "stroke": {"field": "hiv", "type": "nominal", "scale": {"domain": ["Negative", "Positive"], "range": ["#A6A6A6", "#0055FF"]}, "legend": {"title": "HIV status", "orient": "none", "legendX": 672, "legendY": 172}}}}
    ]},
   {"width": 90, "height": 201, "resolve": {"axis": {"x": "independent", "y": "independent"}},
    "layer": [
     {"data": {"name": "f4"}, "mark": {"type": "circle", "size": 5, "opacity": 1},
      "encoding": {"x": {"field": "q", "type": "quantitative", "scale": {"domain": [-0.8, 28], "nice": false, "zero": false}, "axis": {"orient": "top", "values": [0, 4.5, 9, 13.5, 18, 22.5, 27], "gridWidth": {"condition": {"test": "datum.value % 9 === 0", "value": 1}, "value": 0.5}, "labels": false, "ticks": false, "domain": true, "domainColor": "#D9D9D9", "domainWidth": 21, "offset": 10.5, "title": "45–54"}},
                   "y": {"field": "v", "type": "quantitative", "scale": {"domain": [-27.5, 525], "nice": false, "zero": false}, "axis": {"title": null, "values": [0, 50, 100, 150, 200, 250, 300, 350, 400, 450, 500], "labels": false, "ticks": false, "gridWidth": {"condition": {"test": "datum.value % 100 === 0", "value": 1}, "value": 0.5}}},
                   "fill": {"field": "hiv", "type": "nominal", "scale": {"domain": ["Positive", "Negative"], "range": ["#0055FF", "#B0B0B0"]}, "legend": null}}},
     {"data": {"name": "f4fit"}, "mark": {"type": "line", "strokeWidth": 1.3, "interpolate": "monotone"},
      "encoding": {"x": {"field": "q", "type": "quantitative", "scale": {"domain": [-0.8, 28], "nice": false, "zero": false}, "axis": {"orient": "top", "values": [-0.8, 28], "grid": false, "labels": false, "ticks": true, "tickSize": -21, "tickColor": "#333333", "domain": true, "domainColor": "#333333", "domainWidth": 1, "offset": 21, "title": null}},
                   "y": {"field": "v", "type": "quantitative", "scale": {"domain": [-27.5, 525], "nice": false, "zero": false}, "axis": null},
                   "stroke": {"field": "hiv", "type": "nominal", "scale": {"domain": ["Negative", "Positive"], "range": ["#A6A6A6", "#0055FF"]}, "legend": {"title": "HIV status", "orient": "none", "legendX": 672, "legendY": 172}}}}
    ]},
   {"width": 90, "height": 201, "resolve": {"axis": {"x": "independent", "y": "independent"}},
    "layer": [
     {"data": {"name": "f5"}, "mark": {"type": "circle", "size": 5, "opacity": 1},
      "encoding": {"x": {"field": "q", "type": "quantitative", "scale": {"domain": [-0.8, 28], "nice": false, "zero": false}, "axis": {"orient": "top", "values": [0, 4.5, 9, 13.5, 18, 22.5, 27], "gridWidth": {"condition": {"test": "datum.value % 9 === 0", "value": 1}, "value": 0.5}, "labels": false, "ticks": false, "domain": true, "domainColor": "#D9D9D9", "domainWidth": 21, "offset": 10.5, "title": "55–64"}},
                   "y": {"field": "v", "type": "quantitative", "scale": {"domain": [-27.5, 525], "nice": false, "zero": false}, "axis": {"title": null, "values": [0, 50, 100, 150, 200, 250, 300, 350, 400, 450, 500], "labels": false, "ticks": false, "gridWidth": {"condition": {"test": "datum.value % 100 === 0", "value": 1}, "value": 0.5}}},
                   "fill": {"field": "hiv", "type": "nominal", "scale": {"domain": ["Positive", "Negative"], "range": ["#0055FF", "#B0B0B0"]}, "legend": null}}},
     {"data": {"name": "f5fit"}, "mark": {"type": "line", "strokeWidth": 1.3, "interpolate": "monotone"},
      "encoding": {"x": {"field": "q", "type": "quantitative", "scale": {"domain": [-0.8, 28], "nice": false, "zero": false}, "axis": {"orient": "top", "values": [-0.8, 28], "grid": false, "labels": false, "ticks": true, "tickSize": -21, "tickColor": "#333333", "domain": true, "domainColor": "#333333", "domainWidth": 1, "offset": 21, "title": null}},
                   "y": {"field": "v", "type": "quantitative", "scale": {"domain": [-27.5, 525], "nice": false, "zero": false}, "axis": null},
                   "stroke": {"field": "hiv", "type": "nominal", "scale": {"domain": ["Negative", "Positive"], "range": ["#A6A6A6", "#0055FF"]}, "legend": {"title": "HIV status", "orient": "none", "legendX": 672, "legendY": 172}}}}
    ]},
   {"width": 90, "height": 201, "resolve": {"axis": {"x": "independent", "y": "independent"}},
    "layer": [
     {"data": {"name": "f6"}, "mark": {"type": "circle", "size": 5, "opacity": 1},
      "encoding": {"x": {"field": "q", "type": "quantitative", "scale": {"domain": [-0.8, 28], "nice": false, "zero": false}, "axis": {"orient": "top", "values": [0, 4.5, 9, 13.5, 18, 22.5, 27], "gridWidth": {"condition": {"test": "datum.value % 9 === 0", "value": 1}, "value": 0.5}, "labels": false, "ticks": false, "domain": true, "domainColor": "#D9D9D9", "domainWidth": 21, "offset": 10.5, "title": "65+"}},
                   "y": {"field": "v", "type": "quantitative", "scale": {"domain": [-27.5, 525], "nice": false, "zero": false}, "axis": {"orient": "right", "values": [0, 50, 100, 150, 200, 250, 300, 350, 400, 450, 500], "labels": false, "ticks": false, "gridWidth": {"condition": {"test": "datum.value % 100 === 0", "value": 1}, "value": 0.5}, "domain": true, "domainColor": "#D9D9D9", "domainWidth": 21, "offset": 11.5, "title": "Female", "titleAngle": 90}},
                   "fill": {"field": "hiv", "type": "nominal", "scale": {"domain": ["Positive", "Negative"], "range": ["#0055FF", "#B0B0B0"]}, "legend": null}}},
     {"data": {"name": "f6fit"}, "mark": {"type": "line", "strokeWidth": 1.3, "interpolate": "monotone"},
      "encoding": {"x": {"field": "q", "type": "quantitative", "scale": {"domain": [-0.8, 28], "nice": false, "zero": false}, "axis": {"orient": "top", "values": [-0.8, 28], "grid": false, "labels": false, "ticks": true, "tickSize": -21, "tickColor": "#333333", "domain": true, "domainColor": "#333333", "domainWidth": 1, "offset": 21, "title": null}},
                   "y": {"field": "v", "type": "quantitative", "scale": {"domain": [-27.5, 525], "nice": false, "zero": false}, "axis": {"orient": "right", "values": [-27.5, 525], "grid": false, "labels": false, "ticks": true, "tickSize": -21, "tickColor": "#333333", "domain": true, "domainColor": "#333333", "domainWidth": 1, "offset": 22, "title": null}},
                   "stroke": {"field": "hiv", "type": "nominal", "scale": {"domain": ["Negative", "Positive"], "range": ["#A6A6A6", "#0055FF"]}, "legend": {"title": "HIV status", "orient": "none", "legendX": 672, "legendY": 172}}}}
    ]}
  ], "spacing": 18, "bounds": "flush"},
  {"title": {"text": "Year and quarter", "orient": "bottom", "anchor": "middle", "fontSize": 14, "offset": 6},
   "hconcat": [
   {"width": 90, "height": 201, "resolve": {"axis": {"x": "independent", "y": "independent"}},
    "layer": [
     {"data": {"name": "m1"}, "mark": {"type": "circle", "size": 5, "opacity": 1},
      "encoding": {"x": {"field": "q", "type": "quantitative", "scale": {"domain": [-0.8, 28], "nice": false, "zero": false}, "axis": {"title": null, "values": [0, 4.5, 9, 13.5, 18, 22.5, 27], "labelAngle": 270, "labelExpr": "datum.value === 0 ? 'Oct2012' : datum.value === 9 ? 'Jan2015' : datum.value === 18 ? 'Apr2017' : datum.value === 27 ? 'Jul2019' : ''", "tickOpacity": {"condition": {"test": "datum.value % 9 === 0", "value": 1}, "value": 0}, "gridWidth": {"condition": {"test": "datum.value % 9 === 0", "value": 1}, "value": 0.5}, "tickSize": 4, "labelPadding": 2, "labelOverlap": false, "labelFlush": false, "labelBound": false}},
                   "y": {"field": "v", "type": "quantitative", "scale": {"domain": [-27.5, 525], "nice": false, "zero": false}, "axis": {"title": null, "values": [0, 50, 100, 150, 200, 250, 300, 350, 400, 450, 500], "labelExpr": "datum.value % 100 === 0 ? datum.label : ''", "tickOpacity": {"condition": {"test": "datum.value % 100 === 0", "value": 1}, "value": 0}, "gridWidth": {"condition": {"test": "datum.value % 100 === 0", "value": 1}, "value": 0.5}, "tickSize": 4, "labelPadding": 2}},
                   "fill": {"field": "hiv", "type": "nominal", "scale": {"domain": ["Positive", "Negative"], "range": ["#0055FF", "#B0B0B0"]}, "legend": null}}},
     {"data": {"name": "m1fit"}, "mark": {"type": "line", "strokeWidth": 1.3, "interpolate": "monotone"},
      "encoding": {"x": {"field": "q", "type": "quantitative", "scale": {"domain": [-0.8, 28], "nice": false, "zero": false}, "axis": null},
                   "y": {"field": "v", "type": "quantitative", "scale": {"domain": [-27.5, 525], "nice": false, "zero": false}, "axis": null},
                   "stroke": {"field": "hiv", "type": "nominal", "scale": {"domain": ["Negative", "Positive"], "range": ["#A6A6A6", "#0055FF"]}, "legend": {"title": "HIV status", "orient": "none", "legendX": 672, "legendY": 172}}}}
    ]},
   {"width": 90, "height": 201, "resolve": {"axis": {"x": "independent", "y": "independent"}},
    "layer": [
     {"data": {"name": "m2"}, "mark": {"type": "circle", "size": 5, "opacity": 1},
      "encoding": {"x": {"field": "q", "type": "quantitative", "scale": {"domain": [-0.8, 28], "nice": false, "zero": false}, "axis": {"title": null, "values": [0, 4.5, 9, 13.5, 18, 22.5, 27], "labelAngle": 270, "labelExpr": "datum.value === 0 ? 'Oct2012' : datum.value === 9 ? 'Jan2015' : datum.value === 18 ? 'Apr2017' : datum.value === 27 ? 'Jul2019' : ''", "tickOpacity": {"condition": {"test": "datum.value % 9 === 0", "value": 1}, "value": 0}, "gridWidth": {"condition": {"test": "datum.value % 9 === 0", "value": 1}, "value": 0.5}, "tickSize": 4, "labelPadding": 2, "labelOverlap": false, "labelFlush": false, "labelBound": false}},
                   "y": {"field": "v", "type": "quantitative", "scale": {"domain": [-27.5, 525], "nice": false, "zero": false}, "axis": {"title": null, "values": [0, 50, 100, 150, 200, 250, 300, 350, 400, 450, 500], "labels": false, "ticks": false, "gridWidth": {"condition": {"test": "datum.value % 100 === 0", "value": 1}, "value": 0.5}}},
                   "fill": {"field": "hiv", "type": "nominal", "scale": {"domain": ["Positive", "Negative"], "range": ["#0055FF", "#B0B0B0"]}, "legend": null}}},
     {"data": {"name": "m2fit"}, "mark": {"type": "line", "strokeWidth": 1.3, "interpolate": "monotone"},
      "encoding": {"x": {"field": "q", "type": "quantitative", "scale": {"domain": [-0.8, 28], "nice": false, "zero": false}, "axis": null},
                   "y": {"field": "v", "type": "quantitative", "scale": {"domain": [-27.5, 525], "nice": false, "zero": false}, "axis": null},
                   "stroke": {"field": "hiv", "type": "nominal", "scale": {"domain": ["Negative", "Positive"], "range": ["#A6A6A6", "#0055FF"]}, "legend": {"title": "HIV status", "orient": "none", "legendX": 672, "legendY": 172}}}}
    ]},
   {"width": 90, "height": 201, "resolve": {"axis": {"x": "independent", "y": "independent"}},
    "layer": [
     {"data": {"name": "m3"}, "mark": {"type": "circle", "size": 5, "opacity": 1},
      "encoding": {"x": {"field": "q", "type": "quantitative", "scale": {"domain": [-0.8, 28], "nice": false, "zero": false}, "axis": {"title": null, "values": [0, 4.5, 9, 13.5, 18, 22.5, 27], "labelAngle": 270, "labelExpr": "datum.value === 0 ? 'Oct2012' : datum.value === 9 ? 'Jan2015' : datum.value === 18 ? 'Apr2017' : datum.value === 27 ? 'Jul2019' : ''", "tickOpacity": {"condition": {"test": "datum.value % 9 === 0", "value": 1}, "value": 0}, "gridWidth": {"condition": {"test": "datum.value % 9 === 0", "value": 1}, "value": 0.5}, "tickSize": 4, "labelPadding": 2, "labelOverlap": false, "labelFlush": false, "labelBound": false}},
                   "y": {"field": "v", "type": "quantitative", "scale": {"domain": [-27.5, 525], "nice": false, "zero": false}, "axis": {"title": null, "values": [0, 50, 100, 150, 200, 250, 300, 350, 400, 450, 500], "labels": false, "ticks": false, "gridWidth": {"condition": {"test": "datum.value % 100 === 0", "value": 1}, "value": 0.5}}},
                   "fill": {"field": "hiv", "type": "nominal", "scale": {"domain": ["Positive", "Negative"], "range": ["#0055FF", "#B0B0B0"]}, "legend": null}}},
     {"data": {"name": "m3fit"}, "mark": {"type": "line", "strokeWidth": 1.3, "interpolate": "monotone"},
      "encoding": {"x": {"field": "q", "type": "quantitative", "scale": {"domain": [-0.8, 28], "nice": false, "zero": false}, "axis": null},
                   "y": {"field": "v", "type": "quantitative", "scale": {"domain": [-27.5, 525], "nice": false, "zero": false}, "axis": null},
                   "stroke": {"field": "hiv", "type": "nominal", "scale": {"domain": ["Negative", "Positive"], "range": ["#A6A6A6", "#0055FF"]}, "legend": {"title": "HIV status", "orient": "none", "legendX": 672, "legendY": 172}}}}
    ]},
   {"width": 90, "height": 201, "resolve": {"axis": {"x": "independent", "y": "independent"}},
    "layer": [
     {"data": {"name": "m4"}, "mark": {"type": "circle", "size": 5, "opacity": 1},
      "encoding": {"x": {"field": "q", "type": "quantitative", "scale": {"domain": [-0.8, 28], "nice": false, "zero": false}, "axis": {"title": null, "values": [0, 4.5, 9, 13.5, 18, 22.5, 27], "labelAngle": 270, "labelExpr": "datum.value === 0 ? 'Oct2012' : datum.value === 9 ? 'Jan2015' : datum.value === 18 ? 'Apr2017' : datum.value === 27 ? 'Jul2019' : ''", "tickOpacity": {"condition": {"test": "datum.value % 9 === 0", "value": 1}, "value": 0}, "gridWidth": {"condition": {"test": "datum.value % 9 === 0", "value": 1}, "value": 0.5}, "tickSize": 4, "labelPadding": 2, "labelOverlap": false, "labelFlush": false, "labelBound": false}},
                   "y": {"field": "v", "type": "quantitative", "scale": {"domain": [-27.5, 525], "nice": false, "zero": false}, "axis": {"title": null, "values": [0, 50, 100, 150, 200, 250, 300, 350, 400, 450, 500], "labels": false, "ticks": false, "gridWidth": {"condition": {"test": "datum.value % 100 === 0", "value": 1}, "value": 0.5}}},
                   "fill": {"field": "hiv", "type": "nominal", "scale": {"domain": ["Positive", "Negative"], "range": ["#0055FF", "#B0B0B0"]}, "legend": null}}},
     {"data": {"name": "m4fit"}, "mark": {"type": "line", "strokeWidth": 1.3, "interpolate": "monotone"},
      "encoding": {"x": {"field": "q", "type": "quantitative", "scale": {"domain": [-0.8, 28], "nice": false, "zero": false}, "axis": null},
                   "y": {"field": "v", "type": "quantitative", "scale": {"domain": [-27.5, 525], "nice": false, "zero": false}, "axis": null},
                   "stroke": {"field": "hiv", "type": "nominal", "scale": {"domain": ["Negative", "Positive"], "range": ["#A6A6A6", "#0055FF"]}, "legend": {"title": "HIV status", "orient": "none", "legendX": 672, "legendY": 172}}}}
    ]},
   {"width": 90, "height": 201, "resolve": {"axis": {"x": "independent", "y": "independent"}},
    "layer": [
     {"data": {"name": "m5"}, "mark": {"type": "circle", "size": 5, "opacity": 1},
      "encoding": {"x": {"field": "q", "type": "quantitative", "scale": {"domain": [-0.8, 28], "nice": false, "zero": false}, "axis": {"title": null, "values": [0, 4.5, 9, 13.5, 18, 22.5, 27], "labelAngle": 270, "labelExpr": "datum.value === 0 ? 'Oct2012' : datum.value === 9 ? 'Jan2015' : datum.value === 18 ? 'Apr2017' : datum.value === 27 ? 'Jul2019' : ''", "tickOpacity": {"condition": {"test": "datum.value % 9 === 0", "value": 1}, "value": 0}, "gridWidth": {"condition": {"test": "datum.value % 9 === 0", "value": 1}, "value": 0.5}, "tickSize": 4, "labelPadding": 2, "labelOverlap": false, "labelFlush": false, "labelBound": false}},
                   "y": {"field": "v", "type": "quantitative", "scale": {"domain": [-27.5, 525], "nice": false, "zero": false}, "axis": {"title": null, "values": [0, 50, 100, 150, 200, 250, 300, 350, 400, 450, 500], "labels": false, "ticks": false, "gridWidth": {"condition": {"test": "datum.value % 100 === 0", "value": 1}, "value": 0.5}}},
                   "fill": {"field": "hiv", "type": "nominal", "scale": {"domain": ["Positive", "Negative"], "range": ["#0055FF", "#B0B0B0"]}, "legend": null}}},
     {"data": {"name": "m5fit"}, "mark": {"type": "line", "strokeWidth": 1.3, "interpolate": "monotone"},
      "encoding": {"x": {"field": "q", "type": "quantitative", "scale": {"domain": [-0.8, 28], "nice": false, "zero": false}, "axis": null},
                   "y": {"field": "v", "type": "quantitative", "scale": {"domain": [-27.5, 525], "nice": false, "zero": false}, "axis": null},
                   "stroke": {"field": "hiv", "type": "nominal", "scale": {"domain": ["Negative", "Positive"], "range": ["#A6A6A6", "#0055FF"]}, "legend": {"title": "HIV status", "orient": "none", "legendX": 672, "legendY": 172}}}}
    ]},
   {"width": 90, "height": 201, "resolve": {"axis": {"x": "independent", "y": "independent"}},
    "layer": [
     {"data": {"name": "m6"}, "mark": {"type": "circle", "size": 5, "opacity": 1},
      "encoding": {"x": {"field": "q", "type": "quantitative", "scale": {"domain": [-0.8, 28], "nice": false, "zero": false}, "axis": {"title": null, "values": [0, 4.5, 9, 13.5, 18, 22.5, 27], "labelAngle": 270, "labelExpr": "datum.value === 0 ? 'Oct2012' : datum.value === 9 ? 'Jan2015' : datum.value === 18 ? 'Apr2017' : datum.value === 27 ? 'Jul2019' : ''", "tickOpacity": {"condition": {"test": "datum.value % 9 === 0", "value": 1}, "value": 0}, "gridWidth": {"condition": {"test": "datum.value % 9 === 0", "value": 1}, "value": 0.5}, "tickSize": 4, "labelPadding": 2, "labelOverlap": false, "labelFlush": false, "labelBound": false}},
                   "y": {"field": "v", "type": "quantitative", "scale": {"domain": [-27.5, 525], "nice": false, "zero": false}, "axis": {"orient": "right", "values": [0, 50, 100, 150, 200, 250, 300, 350, 400, 450, 500], "labels": false, "ticks": false, "gridWidth": {"condition": {"test": "datum.value % 100 === 0", "value": 1}, "value": 0.5}, "domain": true, "domainColor": "#D9D9D9", "domainWidth": 21, "offset": 11.5, "title": "Male", "titleAngle": 90}},
                   "fill": {"field": "hiv", "type": "nominal", "scale": {"domain": ["Positive", "Negative"], "range": ["#0055FF", "#B0B0B0"]}, "legend": null}}},
     {"data": {"name": "m6fit"}, "mark": {"type": "line", "strokeWidth": 1.3, "interpolate": "monotone"},
      "encoding": {"x": {"field": "q", "type": "quantitative", "scale": {"domain": [-0.8, 28], "nice": false, "zero": false}, "axis": null},
                   "y": {"field": "v", "type": "quantitative", "scale": {"domain": [-27.5, 525], "nice": false, "zero": false}, "axis": {"orient": "right", "values": [-27.5, 525], "grid": false, "labels": false, "ticks": true, "tickSize": -21, "tickColor": "#333333", "domain": true, "domainColor": "#333333", "domainWidth": 1, "offset": 22, "title": null}},
                   "stroke": {"field": "hiv", "type": "nominal", "scale": {"domain": ["Negative", "Positive"], "range": ["#A6A6A6", "#0055FF"]}, "legend": {"title": "HIV status", "orient": "none", "legendX": 672, "legendY": 172}}}}
    ]}
  ], "spacing": 18, "bounds": "flush"}
  ]}
 ]}
]
}
